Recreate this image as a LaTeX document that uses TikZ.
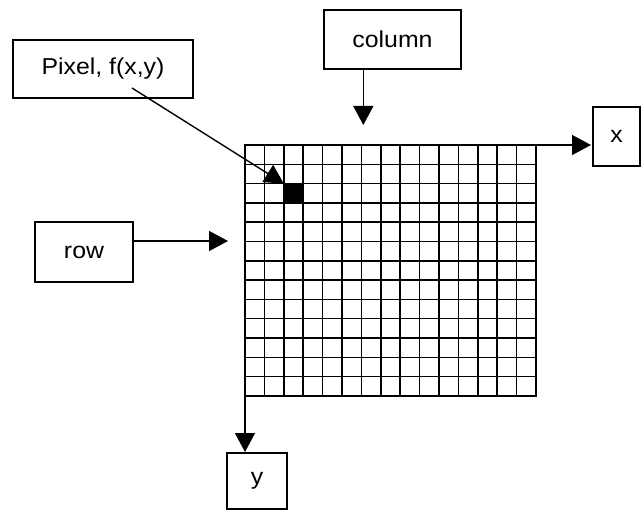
\documentclass[tikz,border=0pt]{standalone}
\usepackage{fontspec}
\setmainfont{Liberation Sans}
\newfontfamily\labfont[FakeStretch=1.08]{Liberation Sans}
\usetikzlibrary{arrows.meta}
\begin{document}
\begin{tikzpicture}[x=1pt,y=-1pt,
  box/.style={draw, line width=1.4pt, inner sep=0pt, font=\labfont\fontsize{23}{26}\selectfont},
  conn/.style={line width=1.4pt, -{Triangle[length=19pt,width=20pt]}},
  gridline/.style={line width=1.5pt},
  border/.style={line width=2.2pt}]
\useasboundingbox (0,0) rectangle (644,510);
% boxes
\node[box, minimum width=180pt, minimum height=58pt] (pixel) at (103,69) {Pixel, f(x,y)};
\node[box, minimum width=137pt, minimum height=59pt] (column) at (392.5,39.5) {column};
\node[box, minimum width=47pt, minimum height=59pt] (xbox) at (616.5,136.5) {x};
\node[box, minimum width=98pt, minimum height=60pt] (row) at (84,252) {row};
\node[box, minimum width=60pt, minimum height=56pt] (ybox) at (257,481) {y};
% grid
\coordinate (gtl) at (245,145);
\coordinate (gtr) at (536,145);
\coordinate (gbl) at (245,396);
\coordinate (gbr) at (536,396);
\foreach \i in {1,...,14} \draw[gridline] (245+\i*19.4,145) -- (245+\i*19.4,396);
\foreach \j in {1,...,12} \draw[gridline] (245,145+\j*19.3) -- (536,145+\j*19.3);
\draw[border] (gtl) rectangle (gbr);
\fill (245+2*19.4,145+2*19.3) coordinate (dark) rectangle ++(19.4,19.3);
% connectors
\coordinate (colstart) at (363.3,69);
\coordinate (coltip) at (363.3,125);
\coordinate (rowstart) at (133,241);
\coordinate (rowtip) at (228,241);
\coordinate (xtip) at (591,145);
\coordinate (ytip) at (245,452);
\coordinate (pixstart) at (132,88);
\draw[conn] (colstart) -- (coltip);
\draw[conn] (rowstart) -- (rowtip);
\draw[conn] (gtr) -- (xtip);
\draw[conn] (gbl) -- (ytip);
\draw[conn] (pixstart) -- (dark);
\end{tikzpicture}
\end{document}
